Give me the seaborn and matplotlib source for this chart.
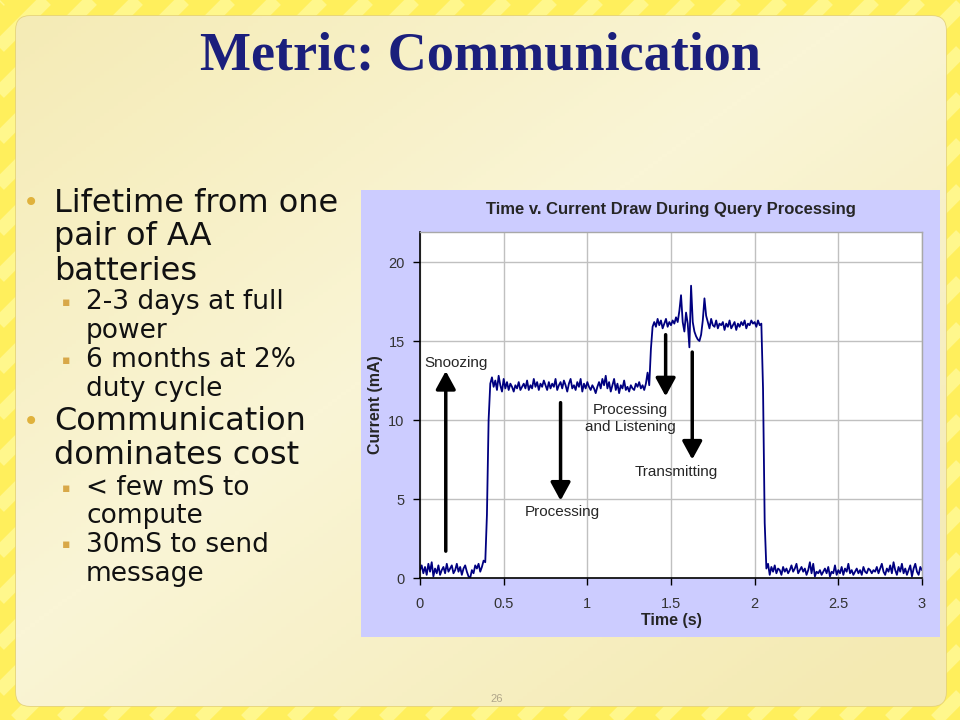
import numpy as np
import matplotlib
matplotlib.use("Agg")
import matplotlib.pyplot as plt
import seaborn as sns
from matplotlib.patches import FancyBboxPatch, Rectangle

# current trace, one row = 0.1 s (10 ms samples)
current_ma = [
    0.5, 0.8, 0.3, 0.7, 0.2, 0.9, 0.4, 1.0, 0.1, 0.6,
    0.3, 0.8, 0.2, 0.5, 0.7, 0.3, 0.9, 0.4, 0.6, 0.8,
    0.3, 0.5, 0.9, 0.4, 0.7, 0.2, 0.6, 0.8, 0.4, 0.1,
    0.0, 0.5, 0.3, 0.8, 0.6, 0.9, 0.4, 0.7, 1.1, 1.0,
    4.0, 10.0, 12.3, 12.7, 12.1, 12.5, 11.9, 12.8, 12.2, 11.8,
    12.6, 12.0, 12.4, 11.9, 12.3, 12.1, 11.8, 12.2, 12.0, 12.4,
    11.9, 12.1, 12.3, 12.0, 12.5, 11.9, 12.2, 12.0, 12.6, 12.1,
    12.4, 11.9, 12.3, 12.1, 12.5, 12.2, 11.9, 12.4, 12.0, 12.3,
    12.1, 12.6, 11.9, 12.2, 12.4, 12.0, 12.5, 12.2, 11.8, 12.3,
    12.6, 12.0, 12.2, 11.9, 12.4, 12.1, 12.6, 11.8, 12.3, 12.0,
    12.4, 12.1, 11.9, 12.2, 12.0, 11.7, 12.1, 12.4, 12.0, 12.6,
    12.2, 12.8, 12.0, 12.4, 11.8, 12.2, 12.6, 11.9, 12.3, 11.7,
    12.2, 12.0, 12.5, 11.9, 12.1, 11.8, 12.2, 12.0, 11.9, 12.3,
    12.1, 12.4, 12.0, 12.2, 11.9, 12.3, 13.0, 12.2, 14.5, 15.9,
    16.2, 15.9, 16.4, 16.0, 16.3, 15.8, 16.1, 16.4, 15.9, 16.2,
    16.0, 16.3, 16.1, 16.5, 16.2, 16.9, 17.9, 16.2, 15.6, 16.8,
    16.1, 14.6, 18.5, 16.2, 15.6, 15.3, 15.1, 15.0, 15.4, 16.3,
    17.7, 16.6, 16.2, 15.8, 16.4, 16.0, 15.9, 16.3, 15.8, 16.1,
    16.0, 16.2, 15.7, 16.1, 15.9, 16.3, 15.8, 16.0, 16.2, 15.7,
    16.1, 15.9, 16.2, 16.0, 16.3, 15.8, 16.1, 16.0, 16.3, 16.1,
    16.2, 15.9, 16.3, 16.0, 16.1, 12.0, 3.5, 0.6, 0.9, 0.2,
    0.7, 0.4, 0.8, 0.3, 0.6, 0.5, 0.2, 0.7, 0.4, 0.6,
    0.3, 0.5, 0.8, 0.4, 0.6, 0.9, 0.3, 0.5, 0.7, 0.4,
    0.6, 0.2, 0.5, 1.0, 0.3, 0.9, 0.1, 0.4, 0.3, 0.5,
    0.2, 0.4, 0.6, 0.3, 0.7, 0.1, 0.4, 0.3, 0.8, 0.2,
    0.5, 0.3, 0.7, 0.2, 0.6, 0.4, 0.9, 0.3, 0.5, 0.2,
    0.4, 0.6, 0.3, 0.5, 0.2, 0.7, 0.4, 0.3, 0.6, 0.5,
    0.3, 0.5, 0.4, 0.7, 0.3, 0.6, 0.9, 0.4, 0.2, 0.6,
    0.4, 0.8, 0.3, 1.0, 0.5, 0.2, 0.7, 0.4, 0.9, 0.3,
    0.6, 0.2, 0.5, 0.8, 0.1, 0.6, 0.9, 0.4, 0.2, 0.7,
    0.5,
]
sample_step = 0.01
time_s = np.arange(len(current_ma)) * sample_step

x_ticks = [0, 0.5, 1, 1.5, 2, 2.5, 3]
x_tick_labels = ['0', '0.5', '1', '1.5', '2', '2.5', '3']
y_ticks = [0, 5, 10, 15, 20]

slide_title = 'Metric: Communication'
chart_title = 'Time v. Current Draw During Query Processing'
bullets = [
    (0, ['Lifetime from one', 'pair of AA', 'batteries']),
    (1, ['2-3 days at full', 'power']),
    (1, ['6 months at 2%', 'duty cycle']),
    (0, ['Communication', 'dominates cost']),
    (1, ['< few mS to', 'compute']),
    (1, ['30mS to send', 'message']),
]

sns.set_style("white")
plt.rcParams['font.family'] = ['Liberation Sans', 'DejaVu Sans']

fig = plt.figure(figsize=(9.6, 7.2), dpi=100)
fig.patch.set_facecolor('#ffef5c')

# slide background in pixel coords
bg = fig.add_axes([0, 0, 1, 1], zorder=-10)
bg.set_xlim(0, 960)
bg.set_ylim(720, 0)
bg.axis('off')
for c in range(-720, 980, 46):
    bg.plot([c, c + 720], [720, 0], color='#fff78c', lw=10,
            solid_capstyle='butt', zorder=0)

panel = FancyBboxPatch((16, 16), 930, 690, boxstyle='round,pad=0,rounding_size=14',
                       fc='#f7f0c2', ec='#e4d27e', lw=1.2, zorder=1)
bg.add_patch(panel)
grad = np.linspace(0, 1, 200)
gx, gy = np.meshgrid(grad, grad)
shade = np.clip(1 - np.abs((gx + gy) - 0.9), 0, 1)
cream = matplotlib.colors.LinearSegmentedColormap.from_list('cream', ['#f4eab2', '#faf5d6'])
img = bg.imshow(shade, extent=[16, 946, 706, 16], cmap=cream, aspect='auto', zorder=1.5)
img.set_clip_path(panel)
bg.add_patch(Rectangle((361, 190), 579, 447, fc='#ccccff', ec='none', zorder=2))

bg.text(480, 70, slide_title, ha='center', va='baseline', fontsize=39,
        fontweight='bold', family='Liberation Serif', color='#1b1f7c', zorder=3)
bg.text(497, 699, '26', ha='center', va='center', fontsize=8, color='#b0a68a', zorder=3)

line_y = iter([203, 237, 271, 302, 331, 360, 389, 422, 456, 488, 516, 545, 574])
for level, lines in bullets:
    if level == 0:
        size, x0, bx, bsize, bcol = 23, 54, 31, 20, '#e0b23c'
    else:
        size, x0, bx, bsize, bcol = 19, 86, 66, 9, '#d8a848'
    for i, line in enumerate(lines):
        y = next(line_y)
        if i == 0:
            bg.text(bx, y, '\u2022' if level == 0 else '\u25aa', ha='center', va='center',
                    fontsize=bsize, family='DejaVu Sans', color=bcol, zorder=3)
        bg.text(x0, y, line, ha='left', va='center', fontsize=size,
                family='DejaVu Sans', color='#111111', zorder=3)

# the chart
ax = fig.add_axes([0.4375, 0.1972, 0.5229, 0.4806])
sns.lineplot(x=time_s, y=current_ma, ax=ax, color='#000080', lw=1.3)
ax.set_facecolor('white')
ax.set_xlim(0, 3)
ax.set_ylim(0, 21.9)
ax.set_xticks(x_ticks)
ax.set_xticklabels(x_tick_labels)
ax.set_yticks(y_ticks)
ax.grid(True, color='#c0c0c0', lw=1)
ax.set_axisbelow(True)
for s in ['left', 'bottom']:
    ax.spines[s].set_color('black')
    ax.spines[s].set_linewidth(1.2)
for s in ['top', 'right']:
    ax.spines[s].set_color('#a8a8a8')
    ax.spines[s].set_linewidth(1)
ax.tick_params(axis='both', direction='out', length=5, width=1, color='black',
               labelsize=10.5, labelcolor='#333333', left=True, bottom=True)
ax.tick_params(axis='x', pad=9)
ax.tick_params(axis='y', pad=6)

ax.set_title(chart_title, fontsize=12, fontweight='bold', pad=13)
ax.set_xlabel('Time (s)', fontsize=11.5, fontweight='bold', va='center')
ax.set_ylabel('Current (mA)', fontsize=11.5, fontweight='bold', va='center')
ax.xaxis.set_label_coords(0.5, -0.124)
ax.yaxis.set_label_coords(-0.088, 0.5)

arrow_kw = dict(arrowstyle='-|>,head_length=0.55,head_width=0.3', lw=2.5, color='black',
                shrinkA=0, shrinkB=0, mutation_scale=20)
ax.annotate('', xy=(0.154, 13.1), xytext=(0.154, 1.7), arrowprops=arrow_kw)
ax.annotate('', xy=(0.84, 4.9), xytext=(0.84, 11.1), arrowprops=arrow_kw)
ax.annotate('', xy=(1.468, 11.5), xytext=(1.468, 15.4), arrowprops=arrow_kw)
ax.annotate('', xy=(1.627, 7.5), xytext=(1.627, 14.3), arrowprops=arrow_kw)

ax.text(0.028, 13.6, 'Snoozing', ha='left', va='center', fontsize=11)
ax.text(0.849, 4.2, 'Processing', ha='center', va='center', fontsize=11)
ax.text(1.255, 10.1, 'Processing\nand Listening', ha='center', va='center',
        fontsize=11, linespacing=1.35)
ax.text(1.529, 6.73, 'Transmitting', ha='center', va='center', fontsize=11)

fig.savefig('out.png', dpi=100, facecolor=fig.get_facecolor())
